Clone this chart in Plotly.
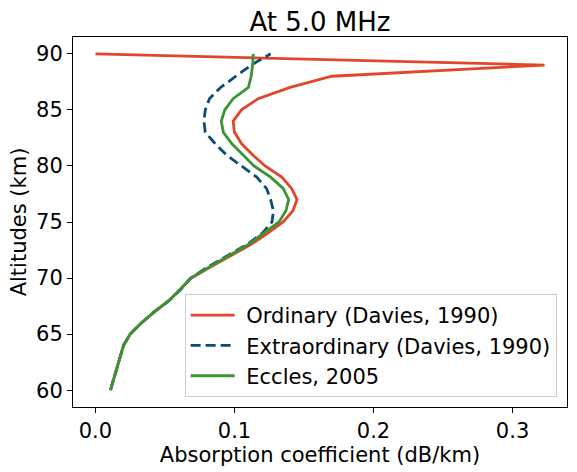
import plotly.graph_objects as go

altitudes = list(range(60, 91))

ordinary = [0.0108, 0.0131, 0.0155, 0.0180, 0.0202, 0.0250, 0.0330, 0.0425, 0.0530, 0.0610,
            0.0690, 0.0830, 0.0970, 0.1120, 0.1240, 0.1350, 0.1420, 0.1450, 0.1410, 0.1340,
            0.1220, 0.1130, 0.1050, 0.1000, 0.0990, 0.1050, 0.1170, 0.1400, 0.1700, 0.3230,
            0.0000]

extraordinary = [0.0108, 0.0131, 0.0155, 0.0180, 0.0202, 0.0250, 0.0330, 0.0425, 0.0530, 0.0615,
                 0.0685, 0.0810, 0.0950, 0.1090, 0.1200, 0.1270, 0.1280, 0.1260, 0.1230, 0.1160,
                 0.1050, 0.0940, 0.0860, 0.0790, 0.0780, 0.0790, 0.0820, 0.0900, 0.1010, 0.1120,
                 0.1260]

eccles = [0.0108, 0.0131, 0.0155, 0.0180, 0.0202, 0.0250, 0.0330, 0.0425, 0.0530, 0.0610,
          0.0685, 0.0820, 0.0960, 0.1100, 0.1210, 0.1320, 0.1370, 0.1390, 0.1350, 0.1260,
          0.1140, 0.1060, 0.0980, 0.0920, 0.0905, 0.0930, 0.0990, 0.1100, 0.1120, 0.1130,
          0.1135]

names = ["Ordinary (Davies, 1990)", "Extraordinary (Davies, 1990)", "Eccles, 2005"]
colors = ["#e2462a", "#0b4e72", "#3a9434"]
dashes = ["solid", "10px,5px", "solid"]

x_ticks = [0.0, 0.1, 0.2, 0.3]
y_ticks = [60, 65, 70, 75, 80, 85, 90]

font = "DejaVu Sans, Liberation Sans, sans-serif"
fs = 21

fig = go.Figure()
for vals, nm, c, d in zip([ordinary, extraordinary, eccles], names, colors, dashes):
    fig.add_trace(go.Scatter(x=vals, y=altitudes, mode="lines", name="\u00a0" + nm,
                             line=dict(color=c, width=2.8, dash=d)))

xmax = max(max(ordinary), max(extraordinary), max(eccles))
xmin = 0.0
xm = 0.05 * (xmax - xmin)
ymin, ymax = min(altitudes), max(altitudes)
ym = 0.05 * (ymax - ymin)

axis_common = dict(showline=True, linecolor="black", linewidth=1.1, mirror=True,
                   ticks="outside", ticklen=5, tickwidth=1.1, tickcolor="black",
                   showgrid=False, zeroline=False,
                   tickfont=dict(size=fs, color="black", family=font))

fig.update_xaxes(range=[xmin - xm, xmax + xm], tickvals=x_ticks, tickformat=".1f",
                 title=dict(text="Absorption coefficient (dB/km)",
                            font=dict(size=fs, color="black", family=font), standoff=4),
                 **axis_common)
fig.update_yaxes(range=[ymin - ym, ymax + ym], tickvals=y_ticks,
                 title=dict(text="Altitudes (km)",
                            font=dict(size=fs, color="black", family=font), standoff=3),
                 **axis_common)

fig.update_layout(
    width=577, height=472,
    margin=dict(l=73, r=10, t=37, b=65),
    plot_bgcolor="white", paper_bgcolor="white",
    font=dict(family=font, color="black", size=fs),
    title=dict(text="At 5.0 MHz", x=0.5, xanchor="center", xref="paper",
               y=1 - 22 / 472, yanchor="middle",
               font=dict(size=26, color="black", family=font)),
    legend=dict(x=0.979, y=0.027, xanchor="right", yanchor="bottom",
                bgcolor="rgba(255,255,255,0.8)", bordercolor="#cccccc", borderwidth=1,
                font=dict(size=fs, color="black", family=font), itemwidth=44),
    showlegend=True,
)

fig.write_html("out.html")
